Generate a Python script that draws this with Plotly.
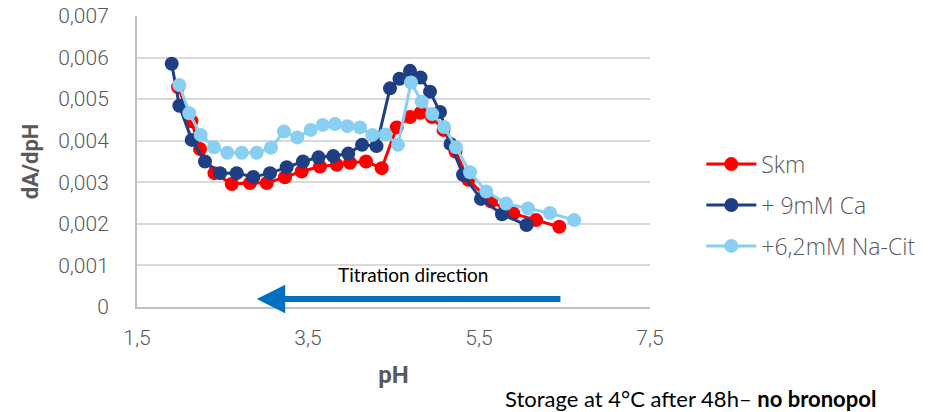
import plotly.graph_objects as go

# ---- data ----
ph_skm = [1.980, 2.137, 2.237, 2.406, 2.608, 2.822, 3.017, 3.231, 3.426, 3.640, 3.836, 3.991,
          4.178, 4.362, 4.537, 4.693, 4.816, 4.950, 5.085, 5.225, 5.375, 5.640, 5.901, 6.167, 6.439]
da_skm = [0.00529, 0.00447, 0.00380, 0.00322, 0.00296, 0.00298, 0.00298, 0.00312, 0.00326, 0.00338,
          0.00342, 0.00347, 0.00350, 0.00334, 0.00432, 0.00457, 0.00467, 0.00457, 0.00426, 0.00374,
          0.00306, 0.00254, 0.00225, 0.00209, 0.00193]

ph_ca = [1.906, 1.995, 2.140, 2.295, 2.471, 2.666, 2.860, 3.056, 3.251, 3.441, 3.623, 3.796, 3.971,
         4.132, 4.301, 4.459, 4.570, 4.693, 4.816, 4.927, 5.044, 5.167, 5.313, 5.523, 5.769, 6.056]
da_ca = [0.00585, 0.00484, 0.00402, 0.00350, 0.00322, 0.00322, 0.00313, 0.00322, 0.00336, 0.00350,
         0.00360, 0.00363, 0.00369, 0.00390, 0.00387, 0.00526, 0.00549, 0.00568, 0.00552, 0.00518,
         0.00469, 0.00392, 0.00318, 0.00260, 0.00223, 0.00197]

ph_cit = [1.995, 2.112, 2.245, 2.401, 2.556, 2.725, 2.900, 3.067, 3.219, 3.375, 3.532, 3.672, 3.816,
          3.960, 4.108, 4.252, 4.406, 4.553, 4.705, 4.830, 4.953, 5.091, 5.231, 5.395, 5.585, 5.816,
          6.073, 6.330, 6.613]
da_cit = [0.00534, 0.00466, 0.00414, 0.00384, 0.00371, 0.00371, 0.00371, 0.00383, 0.00422, 0.00408,
          0.00426, 0.00438, 0.00440, 0.00435, 0.00432, 0.00414, 0.00415, 0.00390, 0.00540, 0.00494,
          0.00464, 0.00433, 0.00384, 0.00324, 0.00278, 0.00249, 0.00237, 0.00226, 0.00209]

series_names = ["Skm", "+ 9mM Ca", "+6,2mM Na-Cit"]
series_colors = ["#FF0000", "#1F3F85", "#88CFF2"]

y_tickvals = [0, 0.001, 0.002, 0.003, 0.004, 0.005, 0.006, 0.007]
y_ticktext = ["0", "0,001", "0,002", "0,003", "0,004", "0,005", "0,006", "0,007"]
x_tickvals = [1.5, 3.5, 5.5, 7.5]
x_ticktext = ["1,5", "3,5", "5,5", "7,5"]

arrow_start_ph = 6.47
arrow_end_ph = 2.90
arrow_level = 0.00019

GRAY = "#595959"

fig = go.Figure()
for i, (xs, ys) in enumerate([(ph_skm, da_skm), (ph_ca, da_ca), (ph_cit, da_cit)]):
    fig.add_trace(go.Scatter(
        x=xs, y=ys, mode="lines+markers", name=series_names[i],
        legendgroup=f"g{i}",
        line=dict(color=series_colors[i], width=3),
        marker=dict(color=series_colors[i], size=14),
    ))

tick_font = dict(size=21, color=GRAY, family="Roboto", weight=300)

fig.update_layout(
    width=940, height=412,
    margin=dict(l=137, r=290, t=16, b=105),
    paper_bgcolor="white", plot_bgcolor="white",
    font=dict(family="Roboto", color=GRAY),
    showlegend=True,
    legend=dict(x=1.10, xanchor="left", y=0.35, yanchor="middle",
                font=dict(size=23, color=GRAY, family="Open Sans", weight=300),
                traceorder="grouped", tracegroupgap=8,
                itemwidth=50,
                bgcolor="rgba(0,0,0,0)"),
    xaxis=dict(range=[1.5, 7.5], tickvals=x_tickvals, ticktext=x_ticktext,
               showgrid=False, zeroline=False, showline=True, linecolor="#BFBFBF", linewidth=2,
               tickfont=tick_font, automargin=False,
               ticks="", ticklabelstandoff=11,
               title=dict(text="<b>pH</b>", font=dict(size=24, color=GRAY, family="Roboto"), standoff=17)),
    yaxis=dict(range=[0, 0.007], tickvals=y_tickvals, ticktext=y_ticktext,
               showgrid=True, gridcolor="#D9D9D9", gridwidth=2,
               zeroline=False, showline=True, linecolor="#BFBFBF", linewidth=2,
               tickfont=tick_font, automargin=False,
               ticks="", ticklabelstandoff=22,
               title=dict(text="<b>dA/dpH</b>", font=dict(size=22, color=GRAY, family="Roboto"), standoff=13)),
)

fig.add_annotation(x=arrow_end_ph, y=arrow_level, ax=arrow_start_ph, ay=arrow_level,
                   xref="x", yref="y", axref="x", ayref="y",
                   showarrow=True, arrowhead=2, arrowsize=0.95, arrowwidth=6,
                   arrowcolor="#0070C0", text="")
fig.add_annotation(x=4.73, y=0.00078, xref="x", yref="y", showarrow=False,
                   text="Titration direction",
                   font=dict(size=19, color="black", family="Lato"))
fig.add_annotation(x=0.7135, y=-0.313, xref="paper", yref="paper", xanchor="left", yanchor="middle",
                   showarrow=False,
                   text="Storage at 4°C after 48h– <b>no bronopol</b>",
                   font=dict(size=22, color="black", family="Lato"))

fig.write_html("out.html")
